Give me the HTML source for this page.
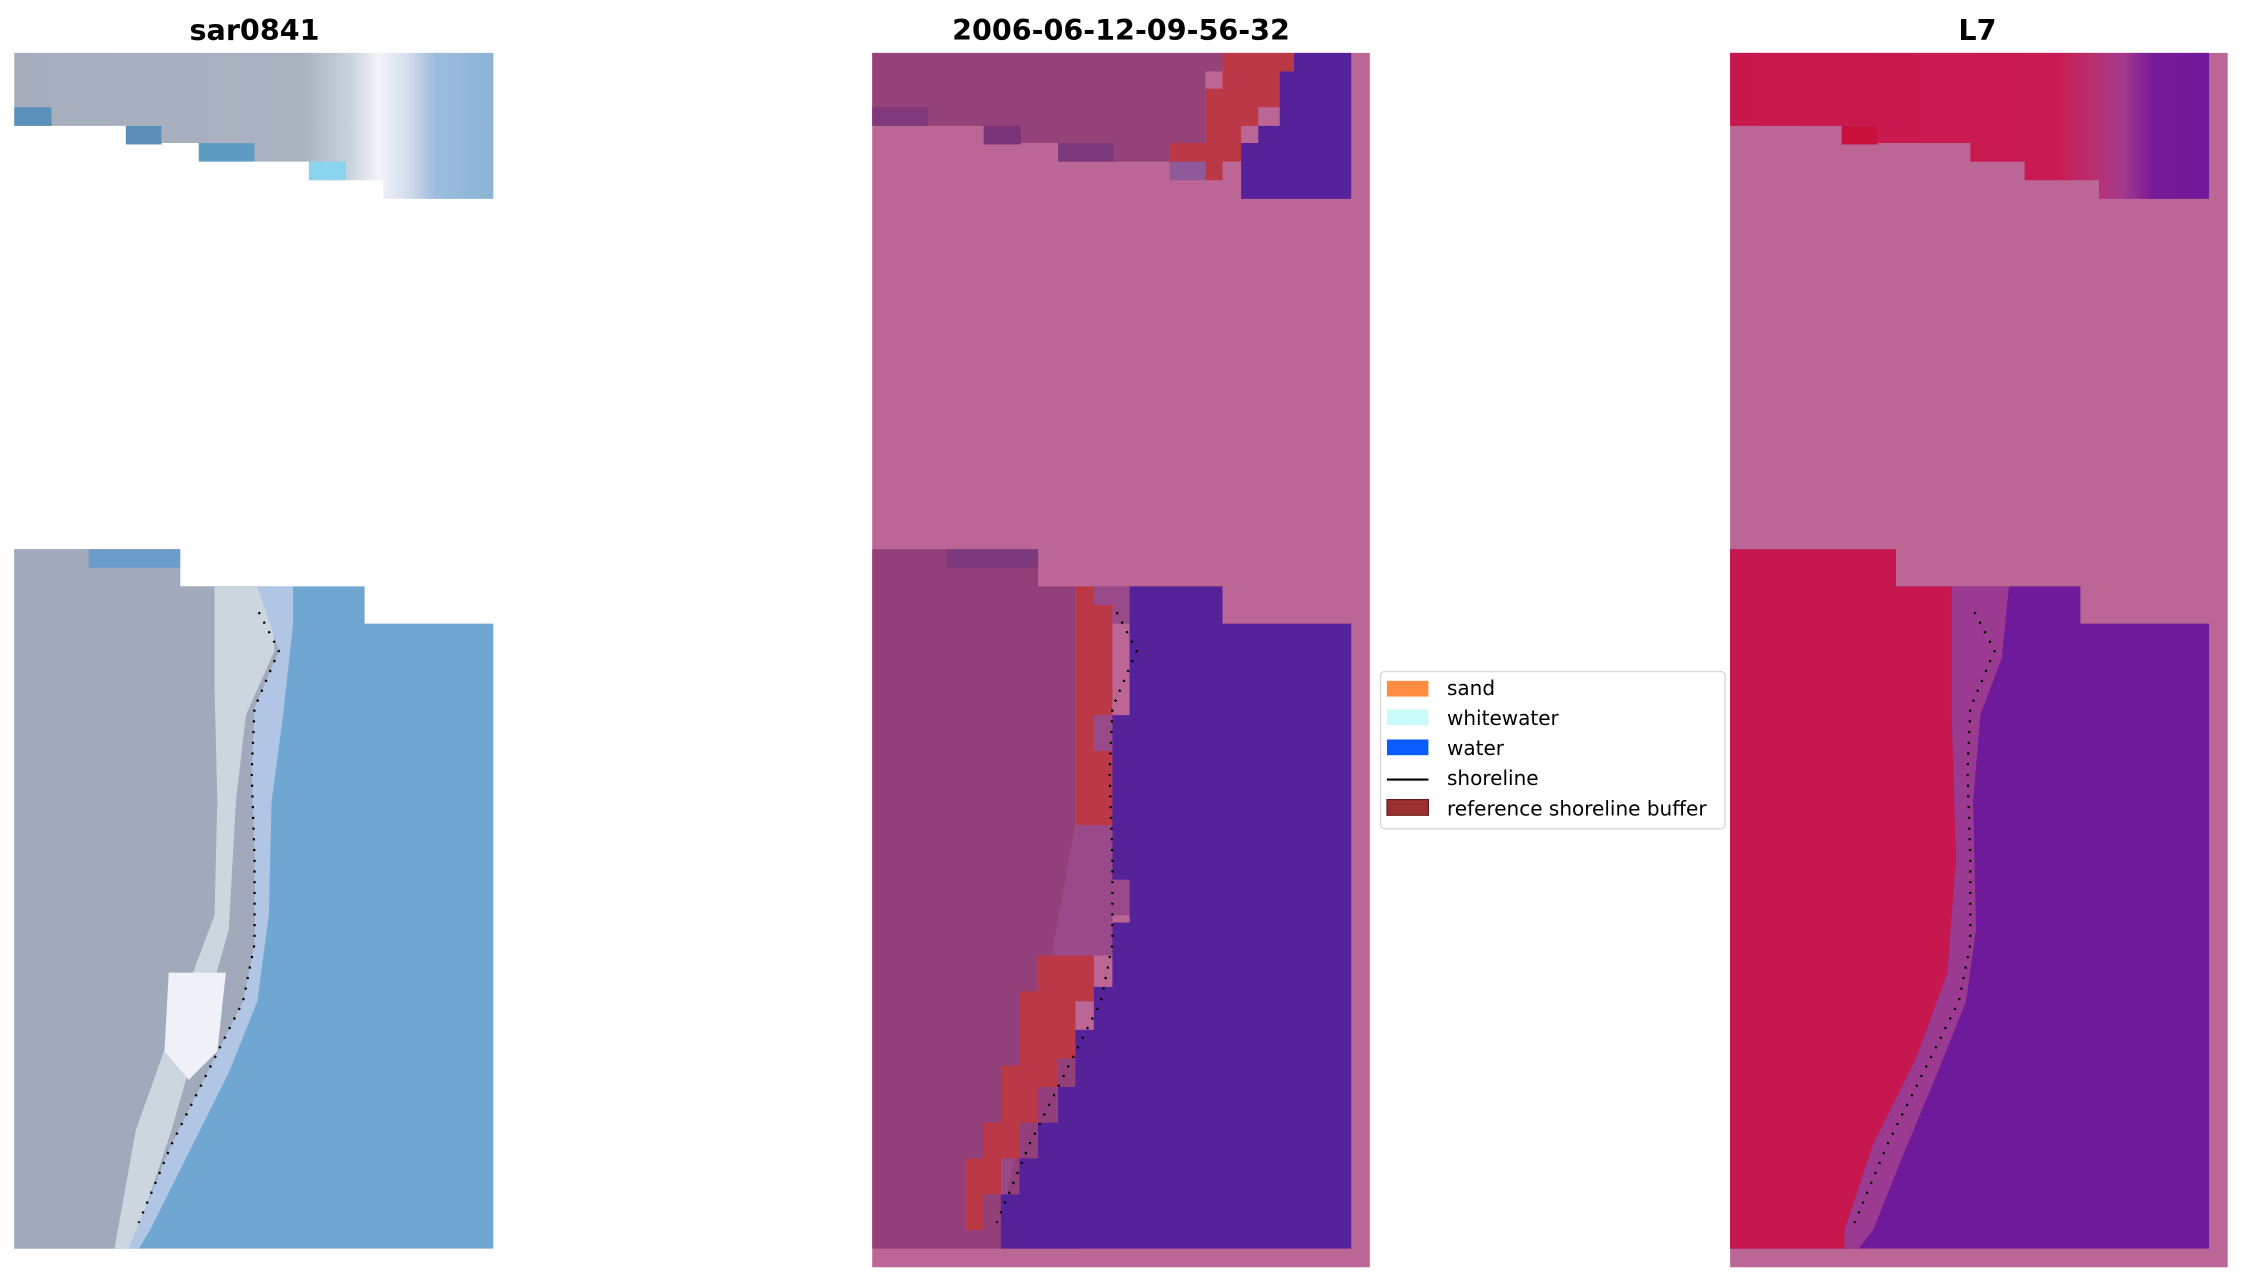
<!DOCTYPE html>
<html><head><meta charset="utf-8"><style>html,body{margin:0;padding:0;background:#fff}svg{display:block}</style></head>
<body>
<svg width="2242" height="1283" viewBox="0 0 1568 897" preserveAspectRatio="none" xmlns="http://www.w3.org/2000/svg">
<defs>
<linearGradient id="g1" x1="0" x2="1" y1="0" y2="0">
<stop offset="0" stop-color="#a6adbd"/><stop offset="0.6" stop-color="#aab2c0"/><stop offset="0.7" stop-color="#c8d2dc"/><stop offset="0.76" stop-color="#f2f4f8"/><stop offset="0.82" stop-color="#d6ddee"/><stop offset="0.88" stop-color="#9cbcdc"/><stop offset="1" stop-color="#8ab4d6"/>
</linearGradient>
<linearGradient id="g3" x1="0" x2="1" y1="0" y2="0">
<stop offset="0" stop-color="#c8174c"/><stop offset="0.68" stop-color="#c81b52"/><stop offset="0.76" stop-color="#b83070"/><stop offset="0.82" stop-color="#a43a8e"/><stop offset="0.88" stop-color="#7a1a98"/><stop offset="1" stop-color="#6e1a9a"/>
</linearGradient>
</defs>
<g font-family="'DejaVu Sans','Liberation Sans',sans-serif" font-weight="bold" font-size="20" text-anchor="middle" fill="#000">
<text x="178" y="28">sar0841</text>
<text x="784" y="28">2006-06-12-09-56-32</text>
<text x="1383" y="28">L7</text>
</g>
<!-- Panel 1 -->
<g>
<polygon points="10,37 345,37 345,139 268,139 268,126 216,126 216,113 178,113 178,100 113,100 113,88 10,88" fill="url(#g1)"/>
<rect x="10" y="75" width="26" height="13" fill="#5b90bb"/>
<rect x="88" y="88" width="25" height="13" fill="#5b8db8"/>
<rect x="139" y="100" width="39" height="13" fill="#5f9cc4"/>
<rect x="216" y="113" width="26" height="13" fill="#8ad4ee"/>
<polygon points="10,384 126,384 126,410 255,410 255,436 345,436 345,873 10,873" fill="#6fa6d2"/>
<polygon points="10,384 126,384 126,410 180,410 195,455 178,495 176,540 178,600 178,660 170,700 150,740 120,800 97,855 90,873 10,873" fill="#a2a9ba"/>
<rect x="62" y="384" width="64" height="13" fill="#6c9ccb"/>
<polygon points="150,410 190,410 192,455 172,500 165,560 160,650 140,720 120,790 100,850 90,873 80,873 95,790 120,720 150,640 152,560 150,480" fill="#d2d9e3" opacity="0.9"/>
<polygon points="118,680 158,680 152,735 132,755 115,735" fill="#eef1f6"/>
<polygon points="180,410 205,410 205,436 198,500 190,560 188,640 180,700 160,750 130,810 105,860 97,873 90,873 120,800 150,740 170,700 178,660 178,600 176,540 178,495 195,455" fill="#b0c6e4"/>
<path d="M181,428 L195,455 L178,495 L176,540 L178,600 L178,660 L170,700 L150,740 L120,800 L97,855" fill="none" stroke="#000" stroke-width="1.6" stroke-dasharray="1.5 6"/>
</g>
<!-- Panel 2 -->
<g>
<rect x="610" y="37" width="348" height="849" fill="#bc6696"/>
<polygon points="610,37 855,37 855,50 843,50 843,100 818,100 818,113 740,113 740,100 688,100 688,88 610,88" fill="#96427a"/>
<rect x="610" y="75" width="39" height="13" fill="#80397a"/>
<rect x="688" y="88" width="26" height="13" fill="#7a3578"/>
<rect x="740" y="100" width="39" height="13" fill="#7a3a7c"/>
<polygon points="855,37 905,37 905,50 895,50 895,75 880,75 880,88 868,88 868,113 855,113 855,126 843,126 843,113 818,113 818,100 843,100 843,62 855,62" fill="#bb3846"/>
<rect x="818" y="113" width="25" height="13" fill="#8e5a9a"/>
<polygon points="905,37 945,37 945,139 868,139 868,100 880,100 880,88 895,88 895,50 905,50" fill="#55229a"/>
<polygon points="610,384 726,384 726,410 752,410 752,873 610,873" fill="#93407a"/>
<rect x="662" y="384" width="64" height="13" fill="#7c3a7c"/>
<polygon points="752,410 765,410 765,423 778,423 778,500 765,500 765,525 778,525 778,577 752,577" fill="#bb3846"/>
<polygon points="765,410 790,410 790,436 778,436 778,600 790,600 790,640 778,640 778,668 765,668 765,700 752,700 752,740 726,740 726,785 713,785 713,810 700,810 700,860 752,577 778,577 778,525 765,525 765,500 778,500 778,423 765,423" fill="#9a4a88"/>
<polygon points="790,410 855,410 855,436 945,436 945,873 700,873 700,835 713,835 713,810 726,810 726,785 740,785 740,760 752,760 752,720 765,720 765,690 778,690 778,645 790,645 790,615 778,615 778,500 790,500" fill="#55229a"/>
<polygon points="726,668 765,668 765,700 752,700 752,740 740,740 740,760 726,760 726,785 713,785 713,810 700,810 700,835 688,835 688,860 675,860 675,810 688,810 688,785 700,785 700,745 713,745 713,693 726,693" fill="#bb3846"/>
<path d="M781,428 L795,455 L778,495 L776,540 L778,600 L778,660 L770,700 L750,740 L720,800 L697,855" fill="none" stroke="#000" stroke-width="1.6" stroke-dasharray="1.5 6"/>
</g>
<!-- Panel 3 -->
<g>
<rect x="1210" y="37" width="348" height="849" fill="#bc6696"/>
<polygon points="1210,37 1545,37 1545,139 1468,139 1468,126 1416,126 1416,113 1378,113 1378,100 1313,100 1313,88 1210,88" fill="url(#g3)"/>
<rect x="1288" y="88" width="25" height="13" fill="#c8103c"/>
<polygon points="1210,384 1326,384 1326,410 1455,410 1455,436 1545,436 1545,873 1210,873" fill="#6e1a9a"/>
<polygon points="1210,384 1326,384 1326,410 1365,410 1365,500 1368,600 1362,680 1340,740 1310,800 1290,860 1290,873 1210,873" fill="#c6184e"/>
<polygon points="1365,410 1405,410 1400,460 1385,500 1380,560 1382,650 1375,700 1355,750 1330,810 1310,860 1300,873 1290,873 1290,860 1310,800 1340,740 1362,680 1368,600 1365,500" fill="#9a3a90"/>
<path d="M1381,428 L1395,455 L1378,495 L1376,540 L1378,600 L1378,660 L1370,700 L1350,740 L1320,800 L1297,855" fill="none" stroke="#000" stroke-width="1.6" stroke-dasharray="1.5 6"/>
</g>
<!-- Legend -->
<g>
<rect x="965.5" y="469.5" width="241" height="110" rx="3" fill="#fff" stroke="#d8d8d8"/>
<rect x="970" y="476" width="29" height="11" fill="#ff8c40"/>
<rect x="970" y="496" width="29" height="11" fill="#c9fbfb"/>
<rect x="970" y="517" width="29" height="11" fill="#0a5cff"/>
<line x1="970" y1="545" x2="999" y2="545" stroke="#000" stroke-width="1.5"/>
<rect x="970" y="559" width="29" height="11" fill="#9a3030" stroke="#6a1a1a" stroke-width="0.8"/>
<g font-family="'DejaVu Sans','Liberation Sans',sans-serif" font-size="14" fill="#000">
<text x="1012" y="486">sand</text>
<text x="1012" y="507">whitewater</text>
<text x="1012" y="528">water</text>
<text x="1012" y="549">shoreline</text>
<text x="1012" y="570">reference shoreline buffer</text>
</g>
</g>
</svg>
</body></html>
